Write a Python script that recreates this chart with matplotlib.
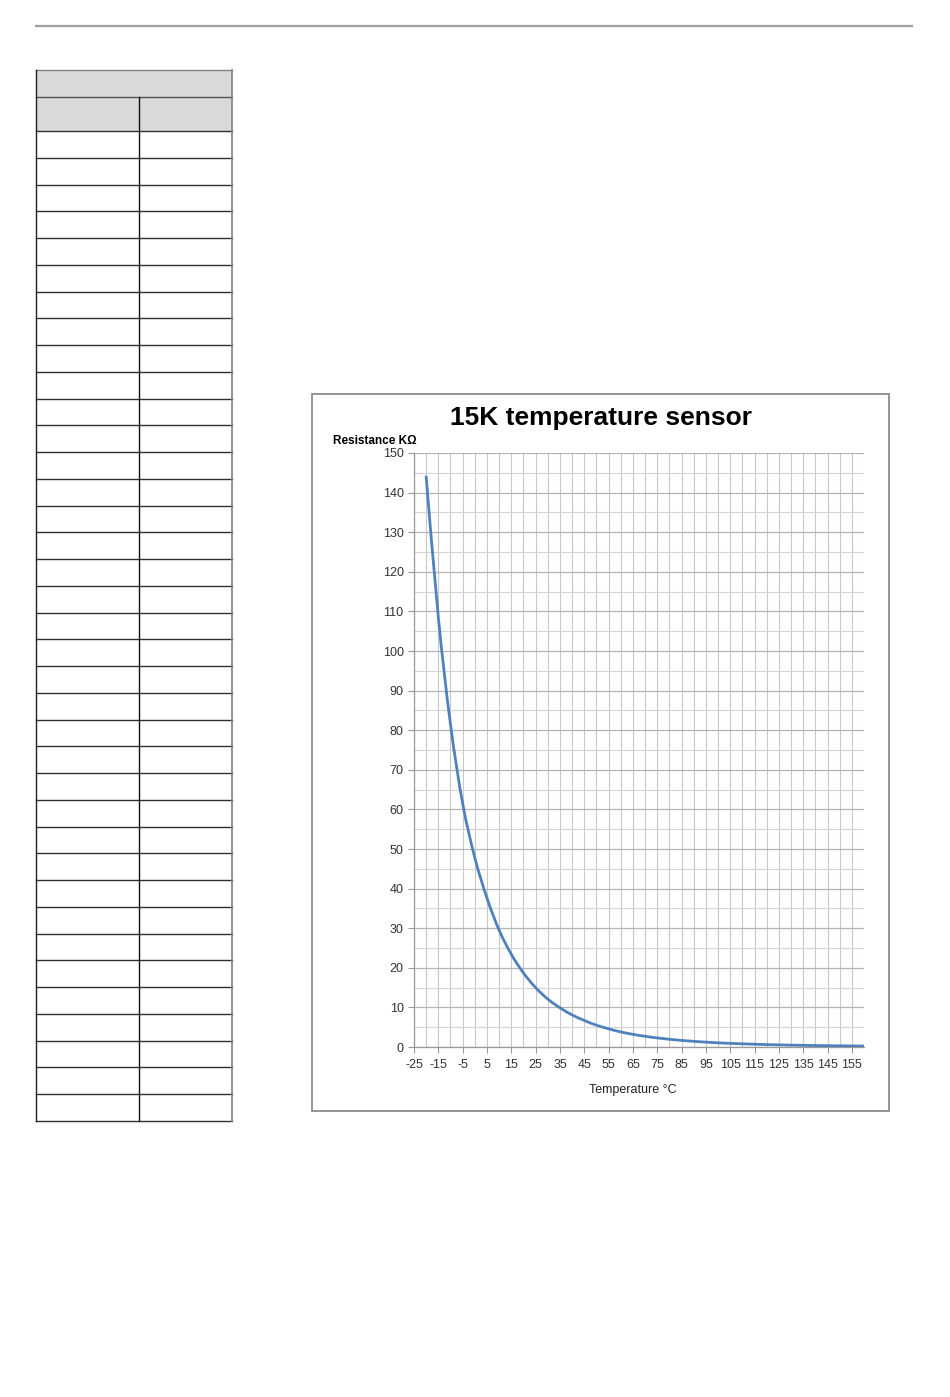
import matplotlib
matplotlib.use("Agg")
import matplotlib.pyplot as plt
from matplotlib.patches import Rectangle, PathPatch
from matplotlib.path import Path
from matplotlib.ticker import MultipleLocator

# Temperature (°C) and resistance (kOhm)
temperatures = [-20, -15, -10, -5, 0, 5, 10, 15, 20, 25, 30, 35, 40, 45, 50,
                55, 60, 65, 70, 75, 80, 85, 90, 95, 100, 105, 110, 115, 120,
                125, 130, 135, 140, 145, 150, 155, 160]
resistance = [144.0, 108.5, 81.5, 61.5, 47.8, 37.6, 29.5, 23.4, 18.7, 15.0,
              12.1, 9.9, 8.1, 6.7, 5.5, 4.6, 3.8, 3.2, 2.7, 2.3, 1.95, 1.67,
              1.43, 1.23, 1.06, 0.92, 0.80, 0.70, 0.61, 0.54, 0.47, 0.42,
              0.37, 0.33, 0.30, 0.27, 0.24]
x_ticks = list(range(-25, 160, 10))
y_ticks = list(range(0, 151, 10))


def smooth_path(xs, ys):
    """Bezier path through the points (Excel style smoothed line)."""
    pts = list(zip(xs, ys))
    verts = [pts[0]]
    codes = [Path.MOVETO]
    for i in range(len(pts) - 1):
        p0 = pts[i - 1] if i > 0 else pts[i]
        p1 = pts[i]
        p2 = pts[i + 1]
        p3 = pts[i + 2] if i + 2 < len(pts) else pts[i + 1]
        c1 = (p1[0] + (p2[0] - p0[0]) / 6, p1[1] + (p2[1] - p0[1]) / 6)
        c2 = (p2[0] - (p3[0] - p1[0]) / 6, p2[1] - (p3[1] - p1[1]) / 6)
        verts += [c1, c2, p2]
        codes += [Path.CURVE4] * 3
    return Path(verts, codes)


W, H = 950, 1397
plt.rcParams['font.family'] = ['Liberation Sans', 'DejaVu Sans']
plt.rcParams['axes.unicode_minus'] = False
fig = plt.figure(figsize=(W / 100, H / 100), dpi=100)

# page layer in pixel coordinates
page = fig.add_axes([0, 0, 1, 1], zorder=0)
page.set_xlim(0, W)
page.set_ylim(H, 0)
page.axis('off')

# header rule
page.plot([35, 913], [26, 26], color='#a0a0a0', lw=1.6, solid_capstyle='butt')

# empty table on the left: merged header, sub header, one row per temperature
tx0, tmid, tx1 = 36, 139, 232
top, head1, head2, bottom = 70, 97, 131, 1121
page.add_patch(Rectangle((tx0, top), tx1 - tx0, head2 - top, facecolor='#d9d9d9', edgecolor='none'))
row_h = (bottom - head2) / len(temperatures)
for i in range(len(temperatures) + 1):
    y = head2 + i * row_h
    page.plot([tx0, tx1], [y, y], color='#303030', lw=1.0)
page.plot([tx0, tx1], [top, top], color='#808080', lw=1.0)
page.plot([tx0, tx1], [head1, head1], color='#505050', lw=1.0)
page.plot([tmid, tmid], [head1, bottom], color='#111111', lw=1.0)
page.plot([tx0, tx0], [top, bottom], color='#202020', lw=1.0)
page.plot([tx1, tx1], [top, bottom], color='#808080', lw=1.2)

# chart frame
page.add_patch(Rectangle((312, 394), 577, 717, facecolor='white', edgecolor='#8c8c8c', lw=1.3))
page.text(601, 418, '15K temperature sensor', ha='center', va='center',
          fontsize=19, fontweight='bold', color='black')
page.text(333, 441, 'Resistance KΩ', ha='left', va='center',
          fontsize=8.5, fontweight='bold', color='black')
page.text(633, 1090, 'Temperature °C', ha='center', va='center',
          fontsize=9, color='#222222')

# plot area
ax = fig.add_axes([414 / W, 1 - 1047 / H, 450 / W, 594 / H], zorder=1)
ax.set_facecolor('none')
ax.add_patch(PathPatch(smooth_path(temperatures, resistance), facecolor='none',
                       edgecolor='#4f81bd', lw=2.0, capstyle='round', zorder=3))
ax.set_xlim(-25, 160)
ax.set_ylim(0, 150)
ax.set_xticks(x_ticks)
ax.set_yticks(y_ticks)
ax.xaxis.set_minor_locator(MultipleLocator(5))
ax.yaxis.set_minor_locator(MultipleLocator(5))
ax.grid(which='major', axis='y', color='#b4b4b4', lw=0.9)
ax.grid(which='minor', axis='y', color='#d4d4d4', lw=0.8)
ax.grid(which='both', axis='x', color='#c8c8c8', lw=0.8)
ax.tick_params(which='major', labelsize=9, labelcolor='#333333', color='#999999', length=4, width=0.8)
ax.tick_params(which='minor', length=0)
ax.tick_params(axis='x', pad=5)
for side in ['top', 'right']:
    ax.spines[side].set_visible(False)
for side in ['left', 'bottom']:
    ax.spines[side].set_color('#999999')
    ax.spines[side].set_linewidth(0.9)

fig.savefig('out.png', dpi=100)
